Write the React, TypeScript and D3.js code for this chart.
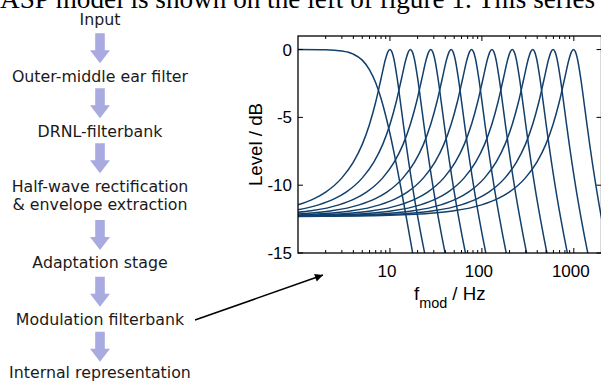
import React from 'react';
import * as d3 from 'd3';

// ---------- data ----------
const headerText = 'ASP model is shown on the left of figure 1. This series';

const flowSteps: string[][] = [
  ['Input'],
  ['Outer-middle ear filter'],
  ['DRNL-filterbank'],
  ['Half-wave rectification', '& envelope extraction'],
  ['Adaptation stage'],
  ['Modulation filterbank'],
  ['Internal representation'],
];

// centre frequencies (Hz) of the band-pass modulation filters (peaks in the plot)
const centerFreqs = [10, 16.7, 27.8, 46.3, 77.2, 128.6, 214, 357, 595, 992];

// common band-pass shape: frequency / centre frequency -> level (dB)
const profileRatio = [0.001, 0.003, 0.01, 0.03, 0.05, 0.1, 0.15, 0.2, 0.3, 0.4, 0.5, 0.6, 0.7, 0.8, 0.9, 0.95, 1, 1.05, 1.1, 1.2, 1.3, 1.4, 1.5, 1.6, 1.7, 1.8, 1.9, 2.0, 2.2, 2.4, 2.6];
const profileLevel = [-12.3, -12.28, -12.22, -12.05, -11.89, -11.45, -10.99, -10.51, -9.46, -8.3, -6.99, -5.51, -3.87, -2.15, -0.64, -0.17, 0, -0.17, -0.64, -2.15, -3.87, -5.51, -6.99, -8.3, -9.46, -10.51, -11.45, -12.3, -13.81, -15.1, -16.23];

// low-pass filter curve
const lowpassFreq = [1, 2, 3, 4, 5, 6, 7, 8, 9, 10, 11, 12, 13, 14, 15, 16, 17, 18, 20];
const lowpassLevel = [0, -0.02, -0.11, -0.34, -0.78, -1.49, -2.45, -3.61, -4.88, -6.19, -7.5, -8.78, -10.01, -11.19, -12.3, -13.37, -14.37, -15.34, -17.1];

const yTicks = [0, -5, -10, -15];
const xTickLabels = [10, 100, 1000];

// ---------- layout ----------
const W = 601;
const H = 383;
const plot = { left: 298, right: 601.5, top: 36, bottom: 253 };
const flowCx = 100;
const labelBaselines = [25, 82.4, 136.7, 191.7, 268.4, 325, 378.4];
const lineGap = 18.5;
const arrowTops = [33.3, 88.3, 143.3, 220, 276.7, 331.7];

const curveColor = '#123f6c';
const arrowColor = '#a9abe0';

function FlowArrow({ top }: { top: number }) {
  const sw = 4.8; // half shaft width
  const hw = 10; // half head width
  const shaftLen = 17;
  const headLen = 13;
  const p = [
    [flowCx - sw, top],
    [flowCx + sw, top],
    [flowCx + sw, top + shaftLen],
    [flowCx + hw, top + shaftLen],
    [flowCx, top + shaftLen + headLen],
    [flowCx - hw, top + shaftLen],
    [flowCx - sw, top + shaftLen],
  ];
  return <path d={'M' + p.map((q) => q.join(',')).join('L') + 'Z'} fill={arrowColor} />;
}

export default function App() {
  const x = d3.scaleLog().domain([1, 2000]).range([plot.left, plot.right]);
  const y = d3.scaleLinear().domain([-15, 1]).range([plot.bottom, plot.top]);

  const line = d3
    .line<[number, number]>()
    .x((d) => x(d[0]))
    .y((d) => y(d[1]))
    .curve(d3.curveMonotoneX);

  const bandPaths = centerFreqs.map((fc) =>
    line(profileRatio.map((r, i) => [r * fc, profileLevel[i]] as [number, number]))
  );
  const lowPath = line(lowpassFreq.map((f, i) => [f, lowpassLevel[i]] as [number, number]));

  const xMinor: number[] = [];
  for (let k = 0; k <= 3; k++) {
    for (let m = 1; m <= 9; m++) {
      const v = m * Math.pow(10, k);
      if (v > 1 && v < 2000) xMinor.push(v);
    }
  }

  const tickFont = 'Liberation Sans, Arial, sans-serif';
  const flowFont = 'DejaVu Sans, Verdana, sans-serif';

  return (
    <svg
      width={W}
      height={H}
      viewBox={`0 0 ${W} ${H}`}
      style={{ position: 'absolute', left: 0, top: 0, background: '#fff' }}
    >
      <rect x={0} y={0} width={W} height={H} fill="#fff" />
      {/* header text cut off at the top */}
      <text x={0} y={8.3} fontFamily="Liberation Serif, Times New Roman, serif" fontSize={27.2} fill="#000">
        {headerText}
      </text>

      {/* flow chart */}
      {flowSteps.map((lines, i) =>
        lines.map((t, j) => (
          <text
            key={`${i}-${j}`}
            x={flowCx}
            y={labelBaselines[i] + j * lineGap}
            textAnchor="middle"
            fontFamily={flowFont}
            fontSize={15.8}
            fill="#1a1a1a"
          >
            {t}
          </text>
        ))
      )}
      {arrowTops.map((t, i) => (
        <FlowArrow key={i} top={t} />
      ))}

      {/* pointer arrow */}
      <defs>
        <marker id="ah" viewBox="0 0 10 10" refX={10} refY={5} markerWidth={10} markerHeight={8} markerUnits="userSpaceOnUse" orient="auto">
          <path d="M0,0L10,5L0,10Z" fill="#000" />
        </marker>
        <clipPath id="plotclip">
          <rect x={plot.left} y={plot.top} width={plot.right - plot.left} height={plot.bottom - plot.top} />
        </clipPath>
      </defs>
      <line x1={195} y1={320} x2={323} y2={275} stroke="#000" strokeWidth={1.6} markerEnd="url(#ah)" />

      {/* curves */}
      <g clipPath="url(#plotclip)" fill="none" stroke={curveColor} strokeWidth={1.5}>
        <path d={lowPath || ''} />
        {bandPaths.map((d, i) => (
          <path key={i} d={d || ''} />
        ))}
      </g>

      {/* frame */}
      <rect
        x={plot.left}
        y={plot.top}
        width={plot.right - plot.left}
        height={plot.bottom - plot.top}
        fill="none"
        stroke="#000"
        strokeWidth={1.3}
      />

      {/* ticks */}
      <g stroke="#000" strokeWidth={1}>
        {xMinor.map((v) => {
          const major = xTickLabels.includes(v);
          const len = major ? 5 : 3;
          return (
            <g key={v}>
              <line x1={x(v)} x2={x(v)} y1={plot.bottom} y2={plot.bottom - len} />
              <line x1={x(v)} x2={x(v)} y1={plot.top} y2={plot.top + len} />
            </g>
          );
        })}
        {yTicks.map((v) => (
          <g key={v}>
            <line x1={plot.left} x2={plot.left + 5} y1={y(v)} y2={y(v)} />
            <line x1={plot.right} x2={plot.right - 5} y1={y(v)} y2={y(v)} />
          </g>
        ))}
      </g>

      {/* tick labels */}
      {xTickLabels.map((v) => (
        <text key={v} x={x(v) - 3} y={277} textAnchor="middle" fontFamily={tickFont} fontSize={17} fill="#000">
          {v}
        </text>
      ))}
      {yTicks.map((v) => (
        <text key={v} x={292} y={y(v)} dy="0.36em" textAnchor="end" fontFamily={tickFont} fontSize={17} fill="#000">
          {v}
        </text>
      ))}

      {/* axis labels */}
      <text
        transform={`translate(262,${(plot.top + plot.bottom) / 2}) rotate(-90)`}
        textAnchor="middle"
        fontFamily={tickFont}
        fontSize={18.7}
        fill="#000"
      >
        Level / dB
      </text>
      <text x={(plot.left + plot.right) / 2} y={300} textAnchor="middle" fontFamily={tickFont} fontSize={18.7} fill="#000">
        f
        <tspan fontSize={14.4} dy={8}>
          mod
        </tspan>
        <tspan dy={-8}> / Hz</tspan>
      </text>
    </svg>
  );
}
